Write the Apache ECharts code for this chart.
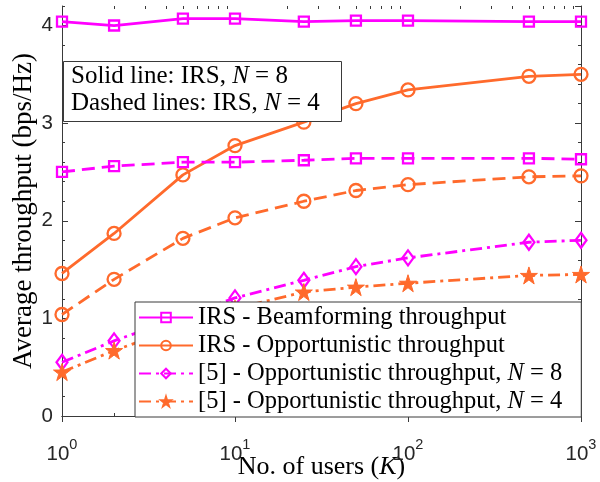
<!DOCTYPE html>
<html>
<head>
<meta charset="utf-8">
<script src="https://cdn.jsdelivr.net/npm/echarts@6/dist/echarts.min.js"></script>
<style>html,body{margin:0;padding:0;background:#fff;}#c{width:600px;height:482px;}</style>
</head>
<body>
<div id="c"></div>
<script>
// ---- data ----
const K = [1, 2, 5, 10, 25, 50, 100, 500, 1000];
const irsBeamN8 = [4.04, 4.00, 4.07, 4.07, 4.04, 4.05, 4.05, 4.04, 4.04];
const irsOppN8  = [1.46, 1.87, 2.47, 2.77, 3.01, 3.20, 3.34, 3.48, 3.50];
const irsBeamN4 = [2.50, 2.56, 2.60, 2.60, 2.62, 2.64, 2.64, 2.64, 2.63];
const irsOppN4  = [1.04, 1.40, 1.82, 2.03, 2.20, 2.31, 2.37, 2.45, 2.46];
const refOppN8  = [0.55, 0.77, 1.02, 1.21, 1.39, 1.53, 1.62, 1.78, 1.80];
const refOppN4  = [0.45, 0.67, 0.92, 1.10, 1.27, 1.32, 1.36, 1.44, 1.45];
const xMinorTicks = [2,3,4,5,6,7,8,9,20,30,40,50,60,70,80,90,200,300,400,500,600,700,800,900];
const yMin = 0, yMax = 4.2;

const legendNames = [
  'IRS - Beamforming throughput',
  'IRS - Opportunistic throughput',
  '[5] - Opportunistic throughput, N = 8',
  '[5] - Opportunistic throughput, N = 4'
];
const legendRich = {
  'IRS - Beamforming throughput': '{r|IRS - Beamforming throughput}',
  'IRS - Opportunistic throughput': '{r|IRS - Opportunistic throughput}',
  '[5] - Opportunistic throughput, N = 8': '{r|[5] - Opportunistic throughput, }{i|N}{r| = 8}',
  '[5] - Opportunistic throughput, N = 4': '{r|[5] - Opportunistic throughput, }{i|N}{r| = 4}'
};

const MAG = '#FF00FF', ORA = '#FF6A2C', AX = '#3a3a3a', TXT = '#262626';
const SERIF = '"Liberation Serif", "DejaVu Serif", serif';
const SANS = '"Liberation Sans", Arial, sans-serif';
const STAR = 'path://M50,0 L61.2,34.5 L97.6,34.5 L68.2,55.9 L79.4,90.5 L50,69.1 L20.6,90.5 L31.8,55.9 L2.4,34.5 L38.8,34.5 Z';
const DASH = [13, 7], DASHDOT = [12, 5, 3, 5];
const pts = arr => K.map((k, i) => [k, arr[i]]);
const hollow = c => ({ color: 'rgba(255,255,255,0)', borderColor: c, borderWidth: 2.3 });

function mkLine(name, arr, color, type, symbol, size, filled) {
  return {
    name, type: 'line', data: pts(arr), symbol, symbolSize: size,
    lineStyle: { color, width: 2.8, type },
    itemStyle: filled ? { color, borderColor: color, borderWidth: 1 } : hollow(color),
    emphasis: { disabled: true }, z: 3
  };
}

const serifRich = (size, lh) => ({
  r: { fontFamily: SERIF, fontSize: size, lineHeight: lh, color: '#000', fontWeight: 'normal' },
  i: { fontFamily: SERIF, fontSize: size, lineHeight: lh, color: '#000', fontWeight: 'normal', fontStyle: 'italic' }
});

const xLabelRich = {
  b: { fontFamily: SANS, fontSize: 20.5, color: TXT, lineHeight: 34 },
  s: { fontFamily: SANS, fontSize: 14.5, color: TXT, lineHeight: 13, verticalAlign: 'top' }
};

const chart = echarts.init(document.getElementById('c'), null, { renderer: 'canvas' });
chart.setOption({
  animation: false,
  backgroundColor: '#fff',
  grid: { left: 62, right: 19, top: 6, bottom: 66, containLabel: false, outerBoundsMode: 'none' },
  title: {
    text: '{r|Solid line: IRS, }{i|N}{r| = 8}\n{r|Dashed lines: IRS, }{i|N}{r| = 4}',
    left: 63, top: 60,
    padding: [3, 22, 6, 8],
    borderColor: AX, borderWidth: 1, backgroundColor: '#fff',
    textStyle: { fontWeight: 'normal', rich: serifRich(25, 27) }
  },
  legend: {
    orient: 'vertical', left: 135, top: 302,
    data: legendNames,
    itemWidth: 54, itemHeight: 12, itemGap: 3,
    padding: [3, 19, 3, 3],
    borderColor: AX, borderWidth: 1, backgroundColor: '#fff', borderRadius: 0,
    selectedMode: false,
    formatter: n => legendRich[n],
    textStyle: {
      fontFamily: SERIF, fontSize: 24.5, lineHeight: 24.5, color: '#000',
      rich: serifRich(24.5, 24.5)
    }
  },
  xAxis: [
    {
      type: 'log', logBase: 10, min: 1, max: 1000, position: 'bottom',
      axisLine: { show: true, lineStyle: { color: AX, width: 1 } },
      axisTick: { show: true, inside: true, length: 6, lineStyle: { color: AX } },
      minorTick: { show: false }, splitLine: { show: false },
      axisLabel: {
        margin: 21,
        formatter: v => '{b|10}{s|' + Math.round(Math.log10(v)) + '}',
        rich: xLabelRich
      },
      name: '{r|No. of users (}{i|K}{r|)}', nameLocation: 'middle', nameGap: 38,
      nameMoveOverlap: false,
      nameTextStyle: { rich: serifRich(26, 26) }
    },
    {
      type: 'log', logBase: 10, min: 1, max: 1000, position: 'top',
      axisLine: { show: true, lineStyle: { color: AX, width: 1 } },
      axisTick: { show: true, inside: true, length: 6, lineStyle: { color: AX } },
      axisLabel: { show: false }, splitLine: { show: false }
    }
  ],
  yAxis: [
    {
      type: 'value', min: yMin, max: yMax, interval: 1, position: 'left',
      axisLine: { show: true, lineStyle: { color: AX, width: 1 } },
      axisTick: { show: true, inside: true, length: 6, lineStyle: { color: AX } },
      splitLine: { show: false },
      axisLabel: { margin: 9, showMaxLabel: false, fontFamily: SANS, fontSize: 20.5, color: TXT,
                   formatter: v => (Math.abs(v - Math.round(v)) < 1e-9 ? String(Math.round(v)) : '') },
      name: 'Average throughput (bps/Hz)', nameLocation: 'middle', nameGap: 25,
      nameMoveOverlap: false,
      nameTextStyle: { fontFamily: SERIF, fontSize: 27, color: '#000' }
    },
    {
      type: 'value', min: yMin, max: yMax, interval: 0.2, position: 'left',
      axisLine: { show: false },
      axisTick: { show: true, inside: true, length: 3, lineStyle: { color: AX } },
      splitLine: { show: false }, axisLabel: { show: false }
    },
    {
      type: 'value', min: yMin, max: yMax, interval: 1, position: 'right',
      axisLine: { show: true, lineStyle: { color: AX, width: 1 } },
      axisTick: { show: true, inside: true, length: 6, lineStyle: { color: AX } },
      splitLine: { show: false }, axisLabel: { show: false }
    },
    {
      type: 'value', min: yMin, max: yMax, interval: 0.2, position: 'right',
      axisLine: { show: false },
      axisTick: { show: true, inside: true, length: 3, lineStyle: { color: AX } },
      splitLine: { show: false }, axisLabel: { show: false }
    }
  ],
  series: [
    mkLine('IRS - Beamforming throughput', irsBeamN8, MAG, 'solid', 'rect', 10, false),
    mkLine('IRS - Opportunistic throughput', irsOppN8, ORA, 'solid', 'circle', 13, false),
    mkLine('IRS beam N=4', irsBeamN4, MAG, DASH, 'rect', 10, false),
    mkLine('IRS opp N=4', irsOppN4, ORA, DASH, 'circle', 13, false),
    mkLine('[5] - Opportunistic throughput, N = 8', refOppN8, MAG, DASHDOT, 'diamond', [11, 15], false),
    mkLine('[5] - Opportunistic throughput, N = 4', refOppN4, ORA, DASHDOT, STAR, 17, true),
    {
      name: 'xminor', type: 'custom', silent: true, clip: false, z: 1,
      data: xMinorTicks.map(v => [v, yMin]),
      encode: { x: 0, y: 1 },
      renderItem: (params, api) => {
        const x = api.value(0);
        const b = api.coord([x, yMin]);
        const t = api.coord([x, yMax]);
        const px = Math.round(b[0]) + 0.5;
        return {
          type: 'group',
          children: [
            { type: 'line', shape: { x1: px, y1: b[1], x2: px, y2: b[1] - 3 }, style: { stroke: AX, lineWidth: 1 } },
            { type: 'line', shape: { x1: px, y1: t[1], x2: px, y2: t[1] + 3 }, style: { stroke: AX, lineWidth: 1 } }
          ]
        };
      }
    }
  ]
});
</script>
</body>
</html>
